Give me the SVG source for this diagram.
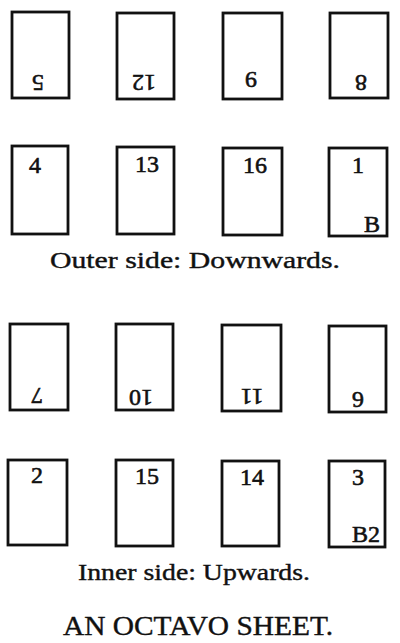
<svg xmlns="http://www.w3.org/2000/svg" width="400" height="643" viewBox="0 0 400 643">
<style>
.pg{fill:#fff;stroke:#111;stroke-width:2.8}
.n{font-family:"Liberation Serif","DejaVu Serif",serif;font-size:24px;fill:#111;stroke:#111;stroke-width:0.6;text-anchor:middle}
.cap{font-family:"Liberation Serif","DejaVu Serif",serif;font-size:24px;fill:#111;stroke:#111;stroke-width:0.4;text-anchor:middle}
.title{font-family:"Liberation Serif","DejaVu Serif",serif;font-size:28px;fill:#111;stroke:#111;stroke-width:0.4;text-anchor:middle}
</style>
<rect width="400" height="643" fill="#fff"/>
<g id="outer-side">
<g id="p5"><rect class="pg" x="12" y="12" width="57" height="86"/><text class="n" x="38" y="90.5" transform="rotate(180 38 82.5)">5</text></g>
<g id="p12"><rect class="pg" x="117" y="13" width="57" height="86"/><text class="n" x="144" y="90.5" transform="rotate(180 144 82.5)">12</text></g>
<g id="p9"><rect class="pg" x="223" y="13" width="59" height="86"/><text class="n" x="251" y="88" transform="rotate(180 251 80)">9</text></g>
<g id="p8"><rect class="pg" x="330" y="13" width="58" height="85"/><text class="n" x="361" y="90.5" transform="rotate(180 361 82.5)">8</text></g>
<g id="p4"><rect class="pg" x="12" y="146" width="56" height="88"/><text class="n" x="35" y="173">4</text></g>
<g id="p13"><rect class="pg" x="117" y="147" width="57" height="87"/><text class="n" x="147" y="172">13</text></g>
<g id="p16"><rect class="pg" x="223" y="148" width="59" height="87"/><text class="n" x="255" y="173">16</text></g>
<g id="p1"><rect class="pg" x="329" y="148" width="58" height="88"/><text class="n" x="358" y="173">1</text><text class="n" x="372" y="232">B</text></g>
<text id="outer-caption" class="cap" x="195" y="268" textLength="290" lengthAdjust="spacingAndGlyphs">Outer side: Downwards.</text>
</g>
<g id="inner-side">
<g id="p7"><rect class="pg" x="10" y="324" width="58" height="86"/><text class="n" x="37" y="404" transform="rotate(180 37 396)">7</text></g>
<g id="p10"><rect class="pg" x="116" y="324" width="57" height="86"/><text class="n" x="141" y="405.5" transform="rotate(180 141 397.5)">10</text></g>
<g id="p11"><rect class="pg" x="222" y="325" width="59" height="86"/><text class="n" x="252" y="405" transform="rotate(180 252 397)">11</text></g>
<g id="p6"><rect class="pg" x="329" y="326" width="57" height="86"/><text class="n" x="358" y="408" transform="rotate(180 358 400)">6</text></g>
<g id="p2"><rect class="pg" x="8" y="460" width="59" height="85"/><text class="n" x="37" y="483">2</text></g>
<g id="p15"><rect class="pg" x="116" y="460" width="57" height="86"/><text class="n" x="147" y="484">15</text></g>
<g id="p14"><rect class="pg" x="222" y="461" width="57" height="85"/><text class="n" x="252" y="485">14</text></g>
<g id="p3"><rect class="pg" x="329" y="461" width="56" height="86"/><text class="n" x="358" y="485">3</text><text class="n" x="366" y="542">B2</text></g>
<text id="inner-caption" class="cap" x="194" y="580" textLength="232" lengthAdjust="spacingAndGlyphs">Inner side: Upwards.</text>
</g>
<text id="title" class="title" x="198" y="635" textLength="270" lengthAdjust="spacingAndGlyphs">AN OCTAVO SHEET.</text>
<g id="connectors"/>
</svg>
